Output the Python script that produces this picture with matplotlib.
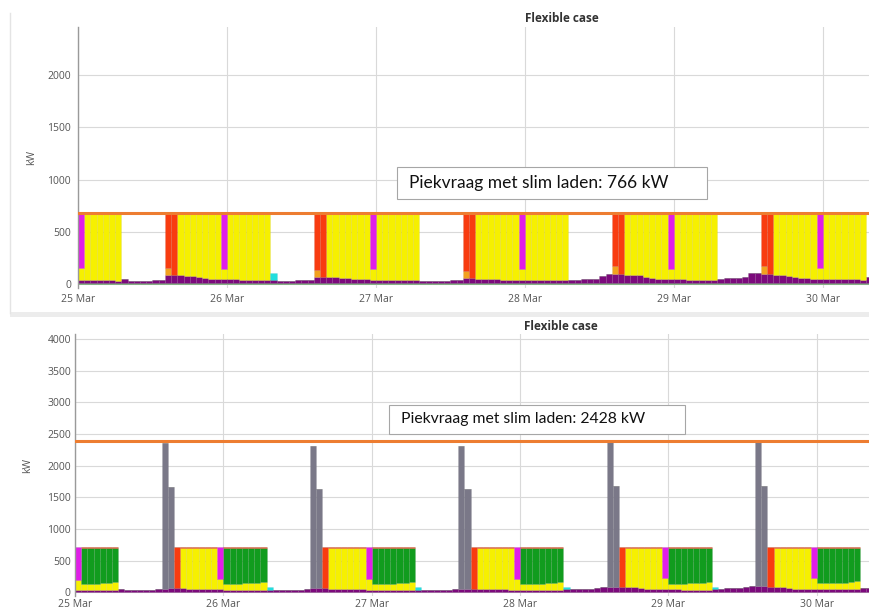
import numpy as np
import matplotlib.pyplot as plt
from matplotlib.patches import Rectangle
from matplotlib.lines import Line2D

plt.rcParams['font.family'] = ['Open Sans', 'DejaVu Sans']

# DATA (hourly, hour 0 = 25 Mar 00:00)

day_labels = ["25 Mar", "26 Mar", "27 Mar", "28 Mar", "29 Mar", "30 Mar"]
title = "Flexible case"
top_note = "Piekvraag met slim laden: 766 kW"
bot_note = "Piekvraag met slim laden: 2428 kW"
top_peak_line = 680
bot_peak_line = 2397

base_green = [
    8, 8, 8, 8, 8, 8, 8, 8, 8, 8, 8, 8, 8, 8, 8, 8, 8, 8, 8, 8, 8, 8, 8, 8,
    8, 8, 8, 8, 8, 8, 8, 8, 8, 8, 8, 8, 8, 8, 8, 8, 8, 8, 8, 8, 8, 8, 8, 8,
    8, 8, 8, 8, 8, 8, 8, 8, 8, 8, 8, 8, 8, 8, 8, 8, 8, 8, 8, 8, 8, 8, 8, 8,
    8, 8, 8, 8, 8, 8, 8, 8, 8, 8, 8, 8, 8, 8, 8, 8, 8, 8, 8, 8, 8, 8, 8, 8,
    8, 8, 8, 8, 8, 8, 8, 8, 8, 8, 8, 8, 8, 8, 8, 8, 8, 8, 8, 8, 8, 8, 8, 8,
    8, 8, 8, 8, 8, 8, 8, 8, 8,
]

# top chart
top_purple = [
    32, 30, 28, 28, 26, 26, 25, 40, 25, 22, 22, 24, 26, 30, 75, 78, 80, 72, 68, 55, 45, 40, 42, 40,
    38, 36, 35, 33, 32, 30, 30, 28, 25, 24, 24, 26, 30, 35, 55, 60, 58, 55, 50, 45, 40, 38, 36, 35,
    33, 32, 30, 30, 28, 28, 26, 24, 22, 22, 24, 25, 28, 30, 45, 48, 42, 40, 38, 36, 35, 34, 33, 32,
    32, 30, 30, 28, 28, 26, 26, 35, 35, 38, 40, 42, 70, 92, 88, 85, 82, 80, 76, 60, 45, 42, 40, 38,
    38, 36, 34, 32, 32, 30, 30, 42, 45, 50, 52, 58, 95, 100, 90, 85, 80, 78, 70, 55, 48, 45, 42, 42,
    42, 40, 40, 38, 36, 36, 35, 55, 58,
]
top_orange = [
    0, 0, 0, 0, 0, 0, 0, 0, 0, 0, 0, 0, 0, 0, 75, 0, 0, 0, 0, 0, 0, 0, 0, 0,
    0, 0, 0, 0, 0, 0, 0, 0, 0, 0, 0, 0, 0, 0, 75, 0, 0, 0, 0, 0, 0, 0, 0, 0,
    0, 0, 0, 0, 0, 0, 0, 0, 0, 0, 0, 0, 0, 0, 75, 0, 0, 0, 0, 0, 0, 0, 0, 0,
    0, 0, 0, 0, 0, 0, 0, 0, 0, 0, 0, 0, 0, 0, 75, 0, 0, 0, 0, 0, 0, 0, 0, 0,
    0, 0, 0, 0, 0, 0, 0, 0, 0, 0, 0, 0, 0, 0, 75, 0, 0, 0, 0, 0, 0, 0, 0, 0,
    0, 0, 0, 0, 0, 0, 0, 0, 0,
]
top_yellow = [
    110, 652, 654, 654, 656, 656, 657, 0, 0, 0, 0, 0, 0, 0, 0, 0, 602, 610, 614, 627, 637, 642, 640, 100,
    644, 646, 647, 649, 650, 652, 652, 0, 0, 0, 0, 0, 0, 0, 0, 0, 624, 627, 632, 637, 642, 644, 646, 100,
    649, 650, 652, 652, 654, 654, 656, 0, 0, 0, 0, 0, 0, 0, 0, 0, 640, 642, 644, 646, 647, 648, 649, 100,
    650, 652, 652, 654, 654, 656, 656, 0, 0, 0, 0, 0, 0, 0, 0, 0, 600, 602, 606, 622, 637, 640, 627, 100,
    644, 646, 648, 650, 650, 652, 652, 0, 0, 0, 0, 0, 0, 0, 0, 0, 602, 604, 612, 627, 634, 637, 625, 100,
    640, 642, 642, 644, 646, 646, 647, 0, 0,
]
top_red = [
    0, 0, 0, 0, 0, 0, 0, 0, 0, 0, 0, 0, 0, 0, 532, 604, 0, 0, 0, 0, 0, 0, 0, 0,
    0, 0, 0, 0, 0, 0, 0, 0, 0, 0, 0, 0, 0, 0, 552, 622, 0, 0, 0, 0, 0, 0, 0, 0,
    0, 0, 0, 0, 0, 0, 0, 0, 0, 0, 0, 0, 0, 0, 562, 634, 0, 0, 0, 0, 0, 0, 0, 0,
    0, 0, 0, 0, 0, 0, 0, 0, 0, 0, 0, 0, 0, 0, 519, 597, 0, 0, 0, 0, 0, 0, 0, 0,
    0, 0, 0, 0, 0, 0, 0, 0, 0, 0, 0, 0, 0, 0, 517, 597, 0, 0, 0, 0, 0, 0, 0, 0,
    0, 0, 0, 0, 0, 0, 0, 0, 0,
]
top_magenta = [
    530, 0, 0, 0, 0, 0, 0, 0, 0, 0, 0, 0, 0, 0, 0, 0, 0, 0, 0, 0, 0, 0, 0, 542,
    0, 0, 0, 0, 0, 0, 0, 0, 0, 0, 0, 0, 0, 0, 0, 0, 0, 0, 0, 0, 0, 0, 0, 547,
    0, 0, 0, 0, 0, 0, 0, 0, 0, 0, 0, 0, 0, 0, 0, 0, 0, 0, 0, 0, 0, 0, 0, 550,
    0, 0, 0, 0, 0, 0, 0, 0, 0, 0, 0, 0, 0, 0, 0, 0, 0, 0, 0, 0, 0, 0, 0, 544,
    0, 0, 0, 0, 0, 0, 0, 0, 0, 0, 0, 0, 0, 0, 0, 0, 0, 0, 0, 0, 0, 0, 0, 540,
    0, 0, 0, 0, 0, 0, 0, 0, 0,
]
top_cyan = [
    0, 0, 0, 0, 0, 0, 0, 0, 0, 0, 0, 0, 0, 0, 0, 0, 0, 0, 0, 0, 0, 0, 0, 0,
    0, 0, 0, 0, 0, 0, 0, 70, 0, 0, 0, 0, 0, 0, 0, 0, 0, 0, 0, 0, 0, 0, 0, 0,
    0, 0, 0, 0, 0, 0, 0, 0, 0, 0, 0, 0, 0, 0, 0, 0, 0, 0, 0, 0, 0, 0, 0, 0,
    0, 0, 0, 0, 0, 0, 0, 0, 0, 0, 0, 0, 0, 0, 0, 0, 0, 0, 0, 0, 0, 0, 15, 0,
    0, 0, 0, 0, 0, 0, 0, 0, 0, 0, 0, 0, 0, 0, 0, 0, 0, 0, 0, 0, 0, 0, 15, 0,
    0, 0, 0, 0, 0, 0, 0, 0, 0,
]

# bottom chart
bot_purple = [
    30, 30, 28, 28, 26, 26, 25, 35, 30, 28, 26, 26, 28, 35, 50, 55, 60, 55, 50, 45, 40, 38, 36, 35,
    34, 32, 30, 30, 28, 28, 26, 30, 25, 24, 24, 26, 30, 40, 55, 58, 55, 50, 45, 40, 38, 36, 35, 34,
    32, 30, 30, 28, 28, 26, 26, 28, 24, 22, 24, 25, 28, 35, 45, 48, 45, 42, 40, 38, 36, 35, 34, 33,
    32, 30, 30, 28, 28, 26, 26, 40, 40, 42, 45, 48, 60, 75, 80, 80, 78, 75, 70, 60, 50, 45, 42, 40,
    38, 36, 34, 32, 32, 30, 30, 45, 48, 52, 55, 60, 80, 90, 90, 85, 80, 75, 70, 60, 50, 45, 42, 42,
    40, 40, 38, 38, 36, 36, 35, 55, 60,
]
bot_gray = [
    0, 0, 0, 0, 0, 0, 0, 0, 0, 0, 0, 0, 0, 0, 2307, 1604, 0, 0, 0, 0, 0, 0, 0, 0,
    0, 0, 0, 0, 0, 0, 0, 0, 0, 0, 0, 0, 0, 0, 2254, 1569, 0, 0, 0, 0, 0, 0, 0, 0,
    0, 0, 0, 0, 0, 0, 0, 0, 0, 0, 0, 0, 0, 0, 2264, 1579, 0, 0, 0, 0, 0, 0, 0, 0,
    0, 0, 0, 0, 0, 0, 0, 0, 0, 0, 0, 0, 0, 0, 2282, 1595, 0, 0, 0, 0, 0, 0, 0, 0,
    0, 0, 0, 0, 0, 0, 0, 0, 0, 0, 0, 0, 0, 0, 2272, 1590, 0, 0, 0, 0, 0, 0, 0, 0,
    0, 0, 0, 0, 0, 0, 0, 0, 0,
]
bot_yellow = [
    150, 92, 95, 100, 105, 115, 130, 0, 0, 0, 0, 0, 0, 0, 0, 0, 0, 632, 637, 642, 647, 649, 651, 170,
    90, 92, 95, 100, 105, 115, 130, 0, 0, 0, 0, 0, 0, 0, 0, 0, 0, 637, 642, 647, 649, 651, 652, 170,
    90, 92, 95, 100, 105, 115, 130, 0, 0, 0, 0, 0, 0, 0, 0, 0, 0, 645, 647, 649, 651, 652, 653, 170,
    90, 92, 95, 100, 105, 115, 130, 0, 0, 0, 0, 0, 0, 0, 0, 0, 0, 612, 617, 627, 637, 642, 645, 170,
    90, 92, 95, 100, 105, 115, 130, 0, 0, 0, 0, 0, 0, 0, 0, 0, 0, 612, 617, 627, 637, 642, 645, 170,
    90, 92, 95, 100, 105, 115, 130, 0, 0,
]
bot_green = [
    0, 568, 567, 562, 559, 549, 535, 0, 0, 0, 0, 0, 0, 0, 0, 0, 0, 0, 0, 0, 0, 0, 0, 0,
    566, 566, 565, 560, 557, 547, 534, 0, 0, 0, 0, 0, 0, 0, 0, 0, 0, 0, 0, 0, 0, 0, 0, 0,
    568, 568, 565, 562, 557, 549, 534, 0, 0, 0, 0, 0, 0, 0, 0, 0, 0, 0, 0, 0, 0, 0, 0, 0,
    568, 568, 565, 562, 557, 549, 534, 0, 0, 0, 0, 0, 0, 0, 0, 0, 0, 0, 0, 0, 0, 0, 0, 0,
    562, 562, 561, 558, 553, 545, 530, 0, 0, 0, 0, 0, 0, 0, 0, 0, 0, 0, 0, 0, 0, 0, 0, 0,
    560, 558, 557, 552, 549, 539, 525, 0, 0,
]
bot_red = [
    0, 22, 22, 22, 22, 22, 22, 0, 0, 0, 0, 0, 0, 0, 0, 0, 652, 25, 25, 25, 25, 25, 25, 0,
    22, 22, 22, 22, 22, 22, 22, 0, 0, 0, 0, 0, 0, 0, 0, 0, 657, 25, 25, 25, 25, 25, 25, 0,
    22, 22, 22, 22, 22, 22, 22, 0, 0, 0, 0, 0, 0, 0, 0, 0, 667, 25, 25, 25, 25, 25, 25, 0,
    22, 22, 22, 22, 22, 22, 22, 0, 0, 0, 0, 0, 0, 0, 0, 0, 634, 25, 25, 25, 25, 25, 25, 0,
    22, 22, 22, 22, 22, 22, 22, 0, 0, 0, 0, 0, 0, 0, 0, 0, 632, 25, 25, 25, 25, 25, 25, 0,
    22, 22, 22, 22, 22, 22, 22, 0, 0,
]
bot_magenta = [
    532, 0, 0, 0, 0, 0, 0, 0, 0, 0, 0, 0, 0, 0, 0, 0, 0, 0, 0, 0, 0, 0, 0, 507,
    0, 0, 0, 0, 0, 0, 0, 0, 0, 0, 0, 0, 0, 0, 0, 0, 0, 0, 0, 0, 0, 0, 0, 508,
    0, 0, 0, 0, 0, 0, 0, 0, 0, 0, 0, 0, 0, 0, 0, 0, 0, 0, 0, 0, 0, 0, 0, 509,
    0, 0, 0, 0, 0, 0, 0, 0, 0, 0, 0, 0, 0, 0, 0, 0, 0, 0, 0, 0, 0, 0, 0, 502,
    0, 0, 0, 0, 0, 0, 0, 0, 0, 0, 0, 0, 0, 0, 0, 0, 0, 0, 0, 0, 0, 0, 0, 500,
    0, 0, 0, 0, 0, 0, 0, 0, 0,
]
bot_cyan = [
    0, 0, 0, 0, 0, 0, 0, 0, 0, 0, 0, 0, 0, 0, 0, 0, 0, 0, 0, 0, 0, 0, 0, 0,
    0, 0, 0, 0, 0, 0, 0, 40, 0, 0, 0, 0, 0, 0, 0, 0, 0, 0, 0, 0, 0, 0, 0, 0,
    0, 0, 0, 0, 0, 0, 0, 40, 0, 0, 0, 0, 0, 0, 0, 0, 0, 0, 0, 0, 0, 0, 0, 0,
    0, 0, 0, 0, 0, 0, 0, 35, 0, 0, 0, 0, 0, 0, 0, 0, 0, 0, 0, 0, 0, 0, 0, 0,
    0, 0, 0, 0, 0, 0, 0, 30, 0, 0, 0, 0, 0, 0, 0, 0, 0, 0, 0, 0, 0, 0, 0, 0,
    0, 0, 0, 0, 0, 0, 0, 0, 0,
]

# COLOURS
C_BASE = "#3d9a3d"
C_PURPLE = "#7c0a7c"
C_ORANGE = "#f2a11e"
C_YELLOW = "#f6f000"
C_GREEN = "#119c1e"
C_RED = "#f83c10"
C_MAGENTA = "#e01ee8"
C_CYAN = "#22dede"
C_GRAY = "#7a7888"
C_LINE = "#ed7d31"
TXT = "#555555"
GRID = "#d9d9d9"

W, H = 870, 614


def fx(px):
    return px / W


def fy(py):
    return 1 - py / H


def stacked(ax, layers):
    hours = np.arange(len(layers[0][0]))
    bottom = np.zeros(len(hours))
    for vals, col in layers:
        vals = np.array(vals, dtype=float)
        ax.bar(hours, vals, width=1.0, bottom=bottom, align="edge", color=col,
               edgecolor=(0, 0, 0, 0.07), linewidth=0.4)
        bottom += vals


def style(ax, yticks, ylim, xmax, ypad, xpad):
    ax.set_ylim(*ylim)
    ax.set_xlim(0, xmax)
    ax.set_yticks(yticks)
    ax.set_yticklabels([str(t) for t in yticks])
    ax.set_xticks([24 * i for i in range(len(day_labels))])
    ax.set_xticklabels(day_labels)
    ax.tick_params(length=0, labelsize=7.5, colors=TXT)
    ax.tick_params(axis="y", pad=ypad)
    ax.tick_params(axis="x", pad=xpad)
    ax.grid(True, color=GRID, linewidth=0.8)
    ax.set_axisbelow(True)
    for s in ["top", "right", "bottom"]:
        ax.spines[s].set_visible(False)
    ax.spines["left"].set_color("#9a9a9a")
    ax.spines["left"].set_linewidth(1.0)


fig = plt.figure(figsize=(W / 100, H / 100), dpi=100)

# light frame round the top screenshot (left edge + bottom band)
fig.lines.append(Line2D([fx(10), fx(10)], [fy(313), fy(13)], transform=fig.transFigure,
                        color="#e4e4e4", linewidth=1.0))
fig.patches.append(Rectangle((fx(10), fy(317)), 1, fy(312) - fy(317),
                             transform=fig.transFigure, facecolor="#ececec",
                             edgecolor="none", zorder=-1))

# TOP CHART
ax1 = fig.add_axes([fx(78), fy(288), 1 - fx(78), fy(27) - fy(288)])
ax1.patch.set_alpha(0)
stacked(ax1, [(base_green, C_BASE), (top_purple, C_PURPLE), (top_orange, C_ORANGE),
              (top_yellow, C_YELLOW), (top_red, C_RED), (top_magenta, C_MAGENTA),
              (top_cyan, C_CYAN)])
ax1.axhline(top_peak_line, color=C_LINE, linewidth=2.2, zorder=5)
style(ax1, [0, 500, 1000, 1500, 2000], (-38, 2460), 127.6, 5, 4)
ax1.set_ylabel("kW", fontsize=7.5, color=TXT, labelpad=7)

# BOTTOM CHART
ax2 = fig.add_axes([fx(75), fy(596), 1 - fx(75), fy(334) - fy(596)])
ax2.patch.set_alpha(0)
stacked(ax2, [(base_green, C_BASE), (bot_purple, C_PURPLE), (bot_gray, C_GRAY),
              (bot_yellow, C_YELLOW), (bot_green, C_GREEN), (bot_red, C_RED),
              (bot_magenta, C_MAGENTA), (bot_cyan, C_CYAN)])
ax2.axhline(bot_peak_line, color=C_LINE, linewidth=2.2, zorder=5)
style(ax2, [0, 500, 1000, 1500, 2000, 2500, 3000, 3500, 4000], (-60, 4080), 128.6, 3, 2)
ax2.set_ylabel("kW", fontsize=7.5, color=TXT, labelpad=10)

# titles
fig.text(fx(562), fy(19), title, ha="center", va="center", fontsize=8.5,
         fontweight="bold", color="#333333")
fig.text(fx(561), fy(327), title, ha="center", va="center", fontsize=8.5,
         fontweight="bold", color="#333333")

# annotation boxes
for (x0, y0, x1, y1, txt, fs) in [(397, 167, 707, 199, top_note, 12.5),
                                  (389, 405, 685, 434, bot_note, 11.3)]:
    fig.patches.append(Rectangle((fx(x0), fy(y1)), fx(x1) - fx(x0), fy(y0) - fy(y1),
                                 transform=fig.transFigure, facecolor="white",
                                 edgecolor="#a6a6a6", linewidth=0.8, zorder=10))
    fig.text(fx(x0 + 12), fy((y0 + y1) / 2), txt, ha="left", va="center",
             fontsize=fs, family=["Lato", "DejaVu Sans"], color="#111111", zorder=11)

fig.savefig("out.png", dpi=100)
